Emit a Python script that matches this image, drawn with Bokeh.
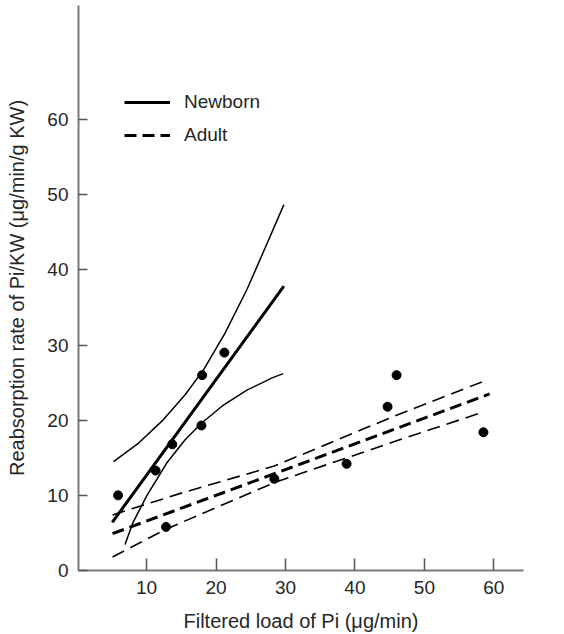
from bokeh.plotting import figure
from bokeh.models import Range1d, FixedTicker, Legend, LegendItem
from bokeh.embed import file_html
from bokeh.resources import INLINE

# ---- data ----
pts_x = [5.9, 11.3, 13.7, 12.8, 18.0, 17.9, 21.2, 28.4, 38.8, 44.7, 46.0, 58.5]
pts_y = [10.0, 13.3, 16.8, 5.8, 26.0, 19.3, 29.0, 12.2, 14.2, 21.8, 26.0, 18.4]

nb_fit_x = [5.06, 29.77]
nb_fit_y = [6.4, 37.85]
nb_upper_x = [5.25, 8.9, 12.4, 15.55, 18.2, 21.3, 24.45, 27.1, 29.77]
nb_upper_y = [14.5, 17.0, 20.05, 23.4, 26.7, 31.6, 37.4, 43.0, 48.7]
nb_lower_x = [6.9, 8.0, 10.0, 12.9, 15.55, 17.9, 20.9, 24.45, 28.0, 29.67]
nb_lower_y = [3.45, 6.3, 9.9, 14.3, 17.4, 19.6, 21.9, 24.0, 25.6, 26.2]

ad_fit_x = [5.1, 59.4]
ad_fit_y = [4.9, 23.5]
ad_upper_x = [5.1, 15.0, 28.4, 45.8, 59.1]
ad_upper_y = [7.4, 10.3, 13.9, 20.6, 25.4]
ad_lower_x = [5.1, 12.8, 28.4, 45.8, 58.5]
ad_lower_y = [1.8, 5.5, 11.7, 17.2, 21.1]

x_ticks = [10, 20, 30, 40, 50, 60]
y_ticks = [0, 10, 20, 30, 40, 50, 60]

FONT = "Liberation Sans"
TXT = "#262626"

p = figure(width=564, height=634, x_range=Range1d(0.2, 64.27), y_range=Range1d(0, 75.2),
           output_backend="svg", toolbar_location=None,
           min_border_left=78, min_border_right=41, min_border_top=5, min_border_bottom=63)
p.grid.visible = False
p.outline_line_color = None

for ax in (p.xaxis[0], p.yaxis[0]):
    ax.axis_line_color = "#7a7a7a"
    ax.axis_line_width = 2
    ax.major_tick_line_color = "#555555"
    ax.major_tick_line_width = 1.5
    ax.major_tick_out = 0
    ax.minor_tick_line_color = None
    ax.major_label_text_font = FONT
    ax.major_label_text_font_size = "19px"
    ax.major_label_text_color = TXT
    ax.axis_label_text_font = FONT
    ax.axis_label_text_font_size = "20px"
    ax.axis_label_text_font_style = "normal"
    ax.axis_label_text_color = TXT

p.xaxis.ticker = FixedTicker(ticks=x_ticks)
p.yaxis.ticker = FixedTicker(ticks=y_ticks)
p.xaxis.major_tick_in = 12
p.yaxis.major_tick_in = 9
p.xaxis.major_label_standoff = 10
p.yaxis.major_label_standoff = 10
p.xaxis.axis_label = "Filtered load of Pi (\u03bcg/min)"
p.yaxis.axis_label = "Reabsorption rate of Pi/KW (\u03bcg/min/g KW)"
p.xaxis.axis_label_standoff = 13
p.yaxis.axis_label_standoff = 16

# newborn
nb_fit = p.line(nb_fit_x, nb_fit_y, line_color="black", line_width=3)
p.line(nb_upper_x, nb_upper_y, line_color="black", line_width=1.5)
p.line(nb_lower_x, nb_lower_y, line_color="black", line_width=1.5)

# adult
ad_fit = p.line(ad_fit_x, ad_fit_y, line_color="black", line_width=3, line_dash="12 6")
p.line(ad_upper_x, ad_upper_y, line_color="black", line_width=1.6, line_dash="13 7")
p.line(ad_lower_x, ad_lower_y, line_color="black", line_width=1.6, line_dash="13 7")

p.scatter(pts_x, pts_y, size=9, color="black")

legend = Legend(items=[LegendItem(label="Newborn", renderers=[nb_fit]),
                       LegendItem(label="Adult", renderers=[ad_fit])],
                location=(46, 424))
legend.glyph_width = 46
legend.glyph_height = 20
legend.label_height = 20
legend.spacing = 11
legend.padding = 0
legend.margin = 0
legend.label_standoff = 14
legend.border_line_color = None
legend.background_fill_alpha = 0
legend.label_text_font = FONT
legend.label_text_font_size = "19px"
legend.label_text_color = TXT
p.add_layout(legend)

open("out.html", "w").write(file_html(p, INLINE))
